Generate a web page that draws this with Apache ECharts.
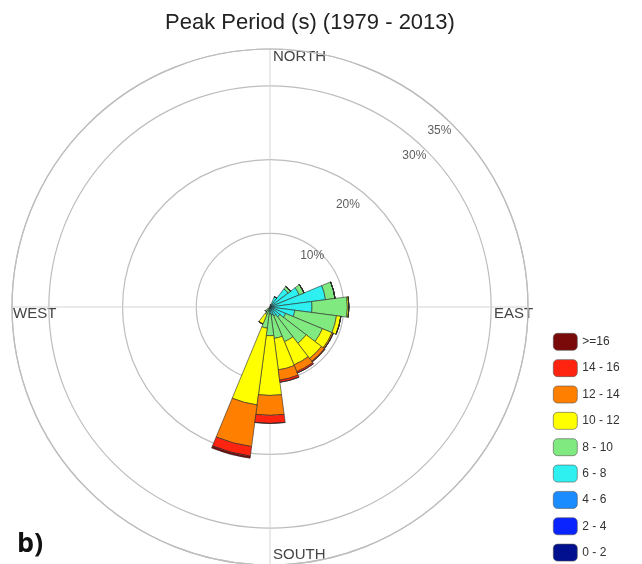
<!DOCTYPE html>
<html>
<head>
<meta charset="utf-8">
<script src="https://cdn.jsdelivr.net/npm/echarts@6/dist/echarts.min.js"></script>
<style>
html,body{margin:0;padding:0;background:#fff;}
#chart{width:642px;height:564px;}
</style>
</head>
<body>
<div id="chart"></div>
<script>
// Direction bins: 24 sectors of 15 degrees, centred on 0, 15, 30 ... clockwise from north
const directions = Array.from({length: 24}, (_, i) => String(i * 15));

// Frequency (%) of each peak-period class per direction bin
const p0_2   = [0,0,0,0,0,0,0,0,0,0,0,0,0,0,0,0,0,0,0,0,0,0,0,0];
const p2_4   = [0,0,0,0,0,0,0,0,0,0,0,0,0,0,0,0,0,0,0,0,0,0,0,0];
const p4_6   = [0,0,0.3,0.2,0.3,0.3,0.2,0.1,0.1,0.1,0.1,0.1,0.1,0.1,0,0,0,0,0,0,0,0,0,0];
const p6_8   = [0,0.3,1.2,2.9,4.0,7.3,5.5,3.3,2.2,1.6,1.2,1.0,0.8,0.5,0.3,0.3,0,0,0,0,0,0,0,0];
const p8_10  = [0,0,0,0.4,0.7,1.3,4.8,5.7,5.4,4.5,3.8,3.2,3.0,2.3,0.8,0.5,0,0,0,0,0,0,0,0];
const p10_12 = [0,0,0,0,0,0,0.2,0.6,1.4,2.6,3.4,4.3,8.1,10.5,1.4,0,0,0,0,0,0,0,0,0];
const p12_14 = [0,0,0,0,0,0,0,0,0.2,0.5,1.0,1.4,2.7,5.7,0,0,0,0,0,0,0,0,0,0];
const p14_16 = [0,0,0,0,0,0,0,0,0,0.1,0.2,0.3,1.1,1.3,0,0,0,0,0,0,0,0,0,0];
const p16up  = [0,0,0,0,0,0,0,0,0,0,0,0,0,0.3,0,0,0,0,0,0,0,0,0,0];

const classNames = ['0 - 2','2 - 4','4 - 6','6 - 8','8 - 10','10 - 12','12 - 14','14 - 16','>=16'];
const classValues = [p0_2, p2_4, p4_6, p6_8, p8_10, p10_12, p12_14, p14_16, p16up];
const classColors = ['#00108f','#0a24ff','#1a8cff','#2ef0f0','#80ea80','#ffff00','#ff8000','#ff2410','#7a0a0a'];

// Percentage rings and compass labels
const ringTicks = [10, 20, 30, 35];
const compassLabels = ['NORTH', 'EAST', 'SOUTH', 'WEST'];

// Layout
const CENTER = [270, 307];
const RADIUS = 258;
const RMAX = 35;
const BIN_WIDTH = 360 / directions.length;
const ringLabelPos = {10: [9.0, 39.5], 20: [17.4, 37.4], 30: [28.4, 43.6], 35: [33.2, 43.8]};
const FONT = 'Liberation Sans, Arial, sans-serif';

const chart = echarts.init(document.getElementById('chart'), null, {renderer: 'canvas'});

const barSeries = classValues.map((vals, k) => ({
  type: 'bar',
  name: classNames[k],
  coordinateSystem: 'polar',
  polarIndex: 0,
  stack: 'rose',
  barCategoryGap: '0%',
  data: vals,
  itemStyle: {color: classColors[k], borderColor: '#2a2a2a', borderWidth: 0.6},
  z: 3
}));

const ringLabelSeries = {
  type: 'scatter',
  coordinateSystem: 'polar',
  polarIndex: 1,
  symbolSize: 0,
  silent: true,
  z: 4,
  data: ringTicks.map(t => ({value: [ringLabelPos[t][0], ringLabelPos[t][1]], name: t + '%'})),
  label: {
    show: true, position: 'inside', formatter: p => p.name,
    fontFamily: FONT, fontSize: 12, color: '#333'
  }
};

const option = {
  backgroundColor: '#ffffff',
  animation: false,
  polar: [
    {center: CENTER, radius: RADIUS},
    {center: CENTER, radius: RADIUS}
  ],
  angleAxis: [
    {
      polarIndex: 0, type: 'category', data: directions, startAngle: 90 + BIN_WIDTH / 2, clockwise: true,
      boundaryGap: true,
      axisLine: {show: false}, axisTick: {show: false}, axisLabel: {show: false}, splitLine: {show: false}
    },
    {
      polarIndex: 1, type: 'value', min: 0, max: 360, interval: 90, startAngle: 90, clockwise: true,
      axisLine: {show: true, lineStyle: {color: '#bdbdbd', width: 1.2}},
      axisTick: {show: false}, axisLabel: {show: false},
      splitLine: {show: true, lineStyle: {color: '#d4d4d4', width: 1}}
    }
  ],
  radiusAxis: [
    {polarIndex: 0, type: 'value', min: 0, max: RMAX, show: false,
     axisLine: {show: false}, axisLabel: {show: false}, splitLine: {show: false}},
    {polarIndex: 1, type: 'value', min: 0, max: RMAX, interval: 10,
     axisLine: {show: false}, axisTick: {show: false}, axisLabel: {show: false},
     splitLine: {show: true, lineStyle: {color: '#bdbdbd', width: 1.2}}}
  ],
  legend: {
    orient: 'vertical',
    left: 553,
    top: 333,
    height: 230,
    padding: 0,
    itemWidth: 24,
    itemHeight: 17,
    itemGap: 8.75,
    data: classNames.slice().reverse(),
    textStyle: {fontFamily: FONT, fontSize: 12, color: '#333'},
    itemStyle: {borderColor: '#555', borderWidth: 0.6},
    selectedMode: false
  },
  title: {
    text: 'Peak Period (s) (1979 - 2013)',
    left: 305, top: 7, textAlign: 'center',
    textStyle: {fontFamily: FONT, fontSize: 22, fontWeight: 'normal', color: '#222'}
  },
  graphic: [
    {type: 'text', left: 273, top: 49, style: {text: compassLabels[0], font: '15px ' + FONT, fill: '#444'}},
    {type: 'text', left: 494, top: 306, style: {text: compassLabels[1], font: '15px ' + FONT, fill: '#444'}},
    {type: 'text', left: 273, top: 547, style: {text: compassLabels[2], font: '15px ' + FONT, fill: '#444'}},
    {type: 'text', left: 13, top: 306, style: {text: compassLabels[3], font: '15px ' + FONT, fill: '#444'}},
    {type: 'text', left: 17, top: 531, style: {text: 'b)', font: 'bold 27px Open Sans, Liberation Sans, Arial', fill: '#111'}}
  ],
  series: barSeries.concat([ringLabelSeries])
};

chart.setOption(option);
</script>
</body>
</html>
